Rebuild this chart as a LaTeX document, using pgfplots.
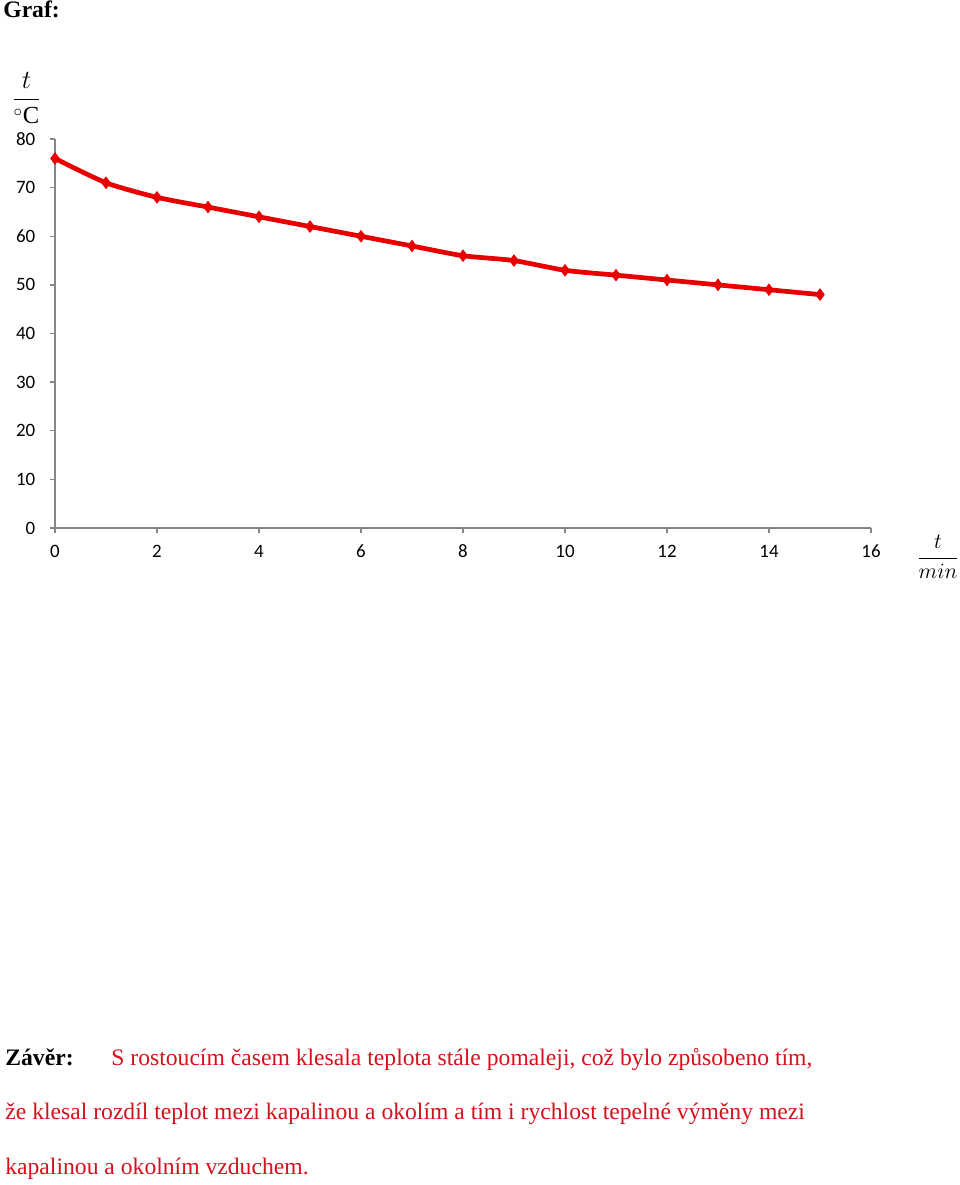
\documentclass[border=0pt]{standalone}
\usepackage{pgfplots}
\pgfplotsset{compat=1.18}
\usepackage{fontspec}
\setmainfont{Liberation Serif}
\newfontfamily\calibri{Carlito}

\definecolor{axgray}{RGB}{134,134,134}
\definecolor{linered}{RGB}{232,0,0}
\definecolor{textred}{RGB}{214,16,28}

\begin{document}
\begin{tikzpicture}[x=0.55pt,y=0.55pt]
\useasboundingbox (0,0) rectangle (960,1185);

\node[anchor=base west,inner sep=0,font=\fontsize{13}{15}\selectfont\bfseries] at (3,1167) {Graf:};

\begin{axis}[
    at={(30.25pt,361.35pt)}, anchor=south west,
    scale only axis,
    width=448.8pt, height=213.95pt,
    xmin=0, xmax=16, ymin=0, ymax=80,
    axis x line*=bottom, axis y line*=left,
    axis line style={axgray, line width=0.7pt, -},
    xtick={0,2,...,16}, ytick={0,10,...,80},
    tick align=outside,
    major tick length=2.9pt,
    tick style={axgray, line width=0.7pt},
    tick label style={font=\fontsize{10.4}{12}\calibri},
    xticklabel style={yshift=-2.6pt, text height=1.6ex, text depth=0pt},
    yticklabel style={xshift=-4.4pt},
    /pgf/number format/assume math mode=true,
    clip=false,
]
\addplot[linered, line width=2.6pt, smooth, tension=0.4,
    mark=diamond*, mark size=3.1pt, mark options={fill=linered, draw=linered, line width=0.5pt}]
    coordinates {
    (0,76) (1,71) (2,68) (3,66) (4,64) (5,62) (6,60) (7,58)
    (8,56) (9,55) (10,53) (11,52) (12,51) (13,50) (14,49) (15,48)
    };
\end{axis}

\node[inner sep=0,font=\fontsize{13.5}{15}\selectfont] at (26.5,1087) {$\displaystyle\frac{t}{{}^{\circ}\mathrm{C}}$};
\node[inner sep=0,font=\fontsize{13}{15}\selectfont] at (938,628) {$\displaystyle\frac{t}{min}$};

\node[anchor=base west,inner sep=0,font=\fontsize{13}{15}\selectfont\bfseries] at (5,119) {Závěr:};
\begin{scope}[every node/.style={anchor=base west,inner sep=0,text=textred,font=\fontsize{13}{15}\selectfont}]
\node at (111,119) {S rostoucím časem klesala teplota stále pomaleji, což bylo způsobeno tím,};
\node at (5,65) {že klesal rozdíl teplot mezi kapalinou a okolím a tím i rychlost tepelné výměny mezi};
\node at (5,10) {kapalinou a okolním vzduchem.};
\end{scope}
\end{tikzpicture}
\end{document}
